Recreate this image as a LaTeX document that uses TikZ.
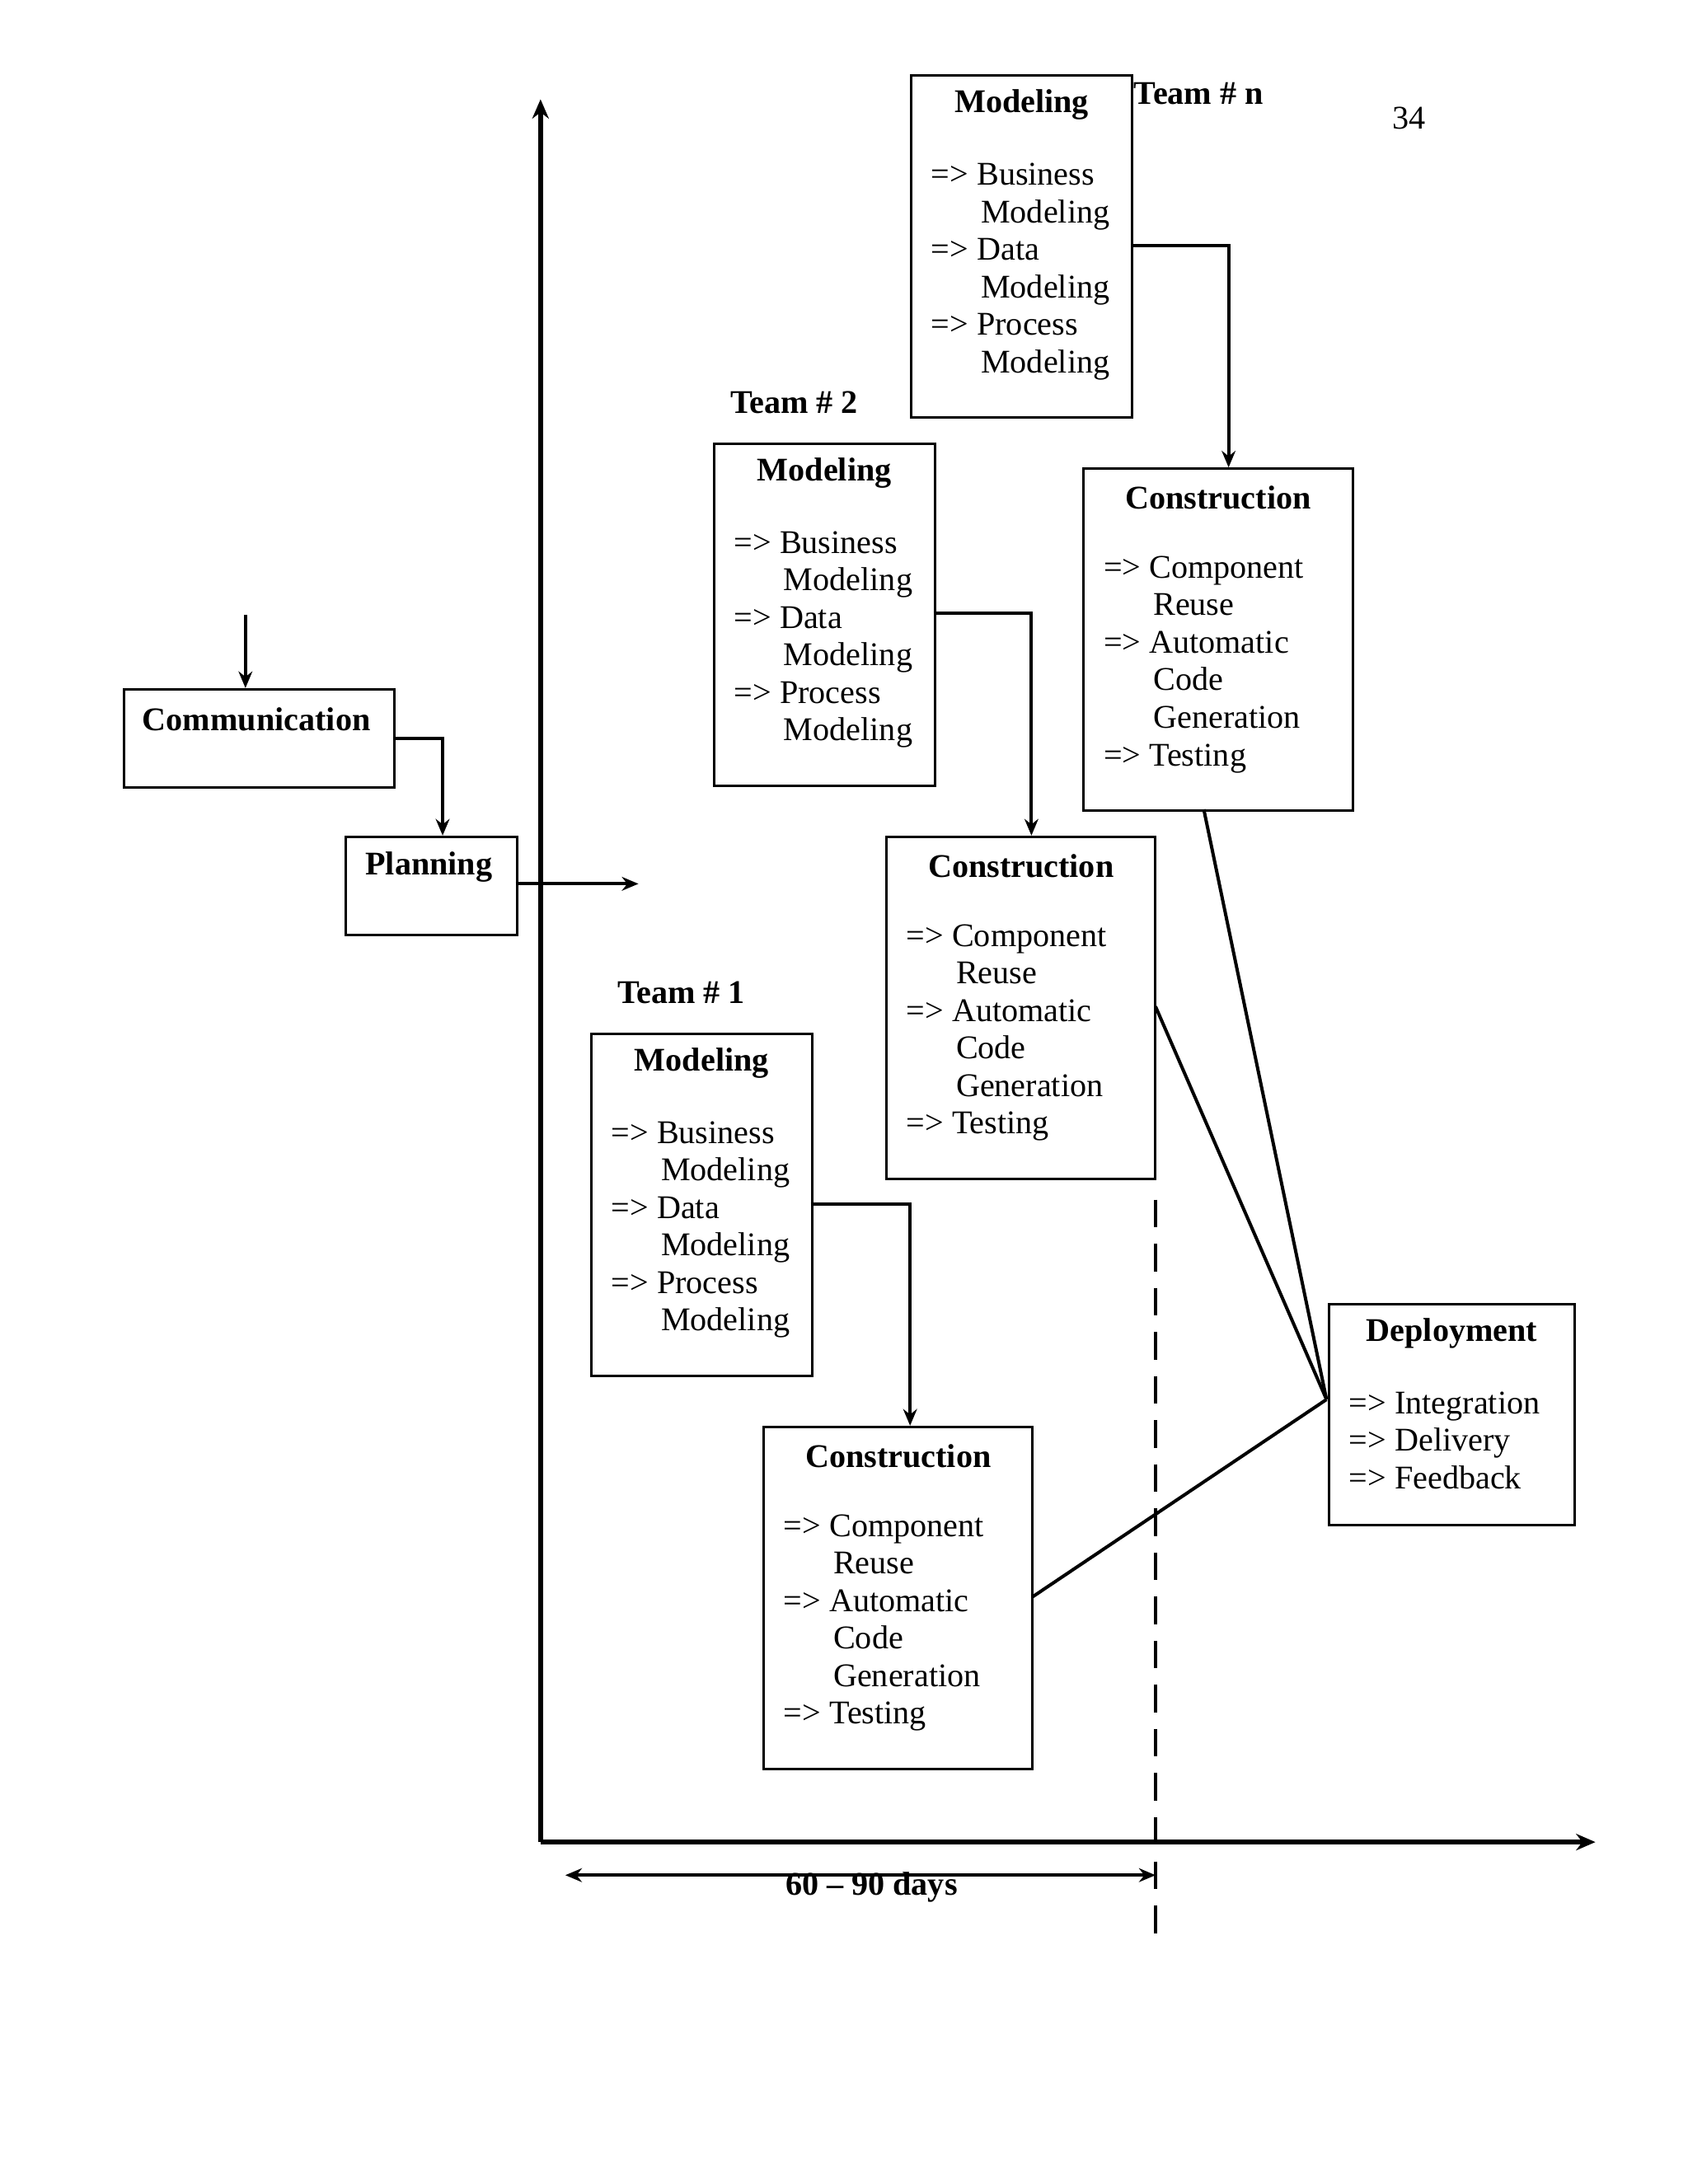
\documentclass[tikz,border=0pt]{standalone}
\usepackage{fontspec}
\setmainfont{Liberation Serif}
\usetikzlibrary{arrows.meta}
\begin{document}
\begin{tikzpicture}[x=0.5pt,y=-0.5pt,
 box/.style={draw,line width=0.9pt},
 ttl/.style={font=\fontsize{12}{13.6}\selectfont\bfseries,inner sep=0pt},
 itm/.style={font=\fontsize{12}{13.6}\selectfont,align=left,anchor=north west,inner sep=0pt},
 con/.style={line width=1.2pt},
 arr/.style={con,-{Stealth[length=6pt,width=5pt]}}]
\useasboundingbox (0,0) rectangle (1224,1584);
\newcommand{\ind}{\hspace*{18pt}}
% Axes
\coordinate (o) at (392,1336);
\coordinate (ytop) at (392,72);
\coordinate (xend) at (1157,1336);
\draw[line width=1.8pt,-{Stealth[length=7pt,width=6pt]}] (o) -- (ytop);
\draw[line width=1.8pt,-{Stealth[length=7pt,width=6pt]}] (o) -- (xend);
\coordinate (d1) at (838,870); \coordinate (d2) at (838,1403);
\draw[line width=1.2pt,dash pattern=on 10pt off 6pt] (d1) -- (d2);
\coordinate (r1) at (410,1360); \coordinate (r2) at (838,1360);
\draw[con,{Stealth[length=6pt,width=5pt]}-{Stealth[length=6pt,width=5pt]}] (r1) -- (r2);
\node[ttl] (days) at (632,1369) {60 -- 90 days};
\node[font=\fontsize{12}{13.6}\selectfont] (pg) at (1022,86) {34};
% Communication / Planning
\node[box,minimum width=98pt,minimum height=35.5pt,anchor=north west] (com) at (89,499) {};
\node[ttl] (comt) at (186,522) {Communication};
\node[box,minimum width=62pt,minimum height=35.5pt,anchor=north west] (pl) at (250,606) {};
\node[ttl] (plt) at (311,629) {Planning};
\coordinate (cin) at (178,446);
\draw[arr] (cin) -- (178,499);
\draw[arr] (com.east) -| (pl.north-|321,0);
\coordinate (pout) at (463,641);
\draw[arr] (374,641) -- (pout);
% Modeling/Construction generic
\newcommand{\modbox}[3]{%
 \node[box,minimum width=80pt,minimum height=124pt,anchor=north west] (#1) at (#2,#3) {};
 \node[ttl] at ([yshift=-11pt]#1.north) {Modeling};
 \node[itm] at ([xshift=7.5pt,yshift=-32pt]#1.north west) {=> Business\\\ind Modeling\\=> Data\\\ind Modeling\\=> Process\\\ind Modeling};}
\newcommand{\conbox}[3]{%
 \node[box,minimum width=97.5pt,minimum height=124pt,anchor=north west] (#1) at (#2,#3) {};
 \node[ttl] at ([yshift=-11pt]#1.north) {Construction};
 \node[itm] at ([xshift=7.5pt,yshift=-32pt]#1.north west) {=> Component\\\ind Reuse\\=> Automatic\\\ind Code\\\ind Generation\\=> Testing};}
\modbox{mn}{660}{54}
\conbox{cn}{785}{339}
\modbox{m2}{517}{321}
\conbox{c2}{642}{606}
\modbox{m1}{428}{749}
\conbox{c1}{553}{1034}
\node[ttl,anchor=west] (tn) at (822,68) {Team \# n};
\node[ttl] (t2) at (576,292) {Team \# 2};
\node[ttl] (t1) at (494,720) {Team \# 1};
\draw[arr] (820,178) -| (cn.north-|891,0);
\draw[arr] (677,445) -| (c2.north-|748,0);
\draw[arr] (588,873) -| (c1.north-|660,0);
% Deployment
\node[box,minimum width=89pt,minimum height=80pt,anchor=north west] (dep) at (963,945) {};
\node[ttl] at ([yshift=-11pt]dep.north) {Deployment};
\node[itm] at ([xshift=7.5pt,yshift=-32pt]dep.north west) {=> Integration\\=> Delivery\\=> Feedback};
\coordinate (dp) at (962,1015);
\draw[con] (873,587) -- (dp);
\draw[con] (838,730) -- (dp);
\draw[con] (749,1158) -- (dp);
\end{tikzpicture}
\end{document}
